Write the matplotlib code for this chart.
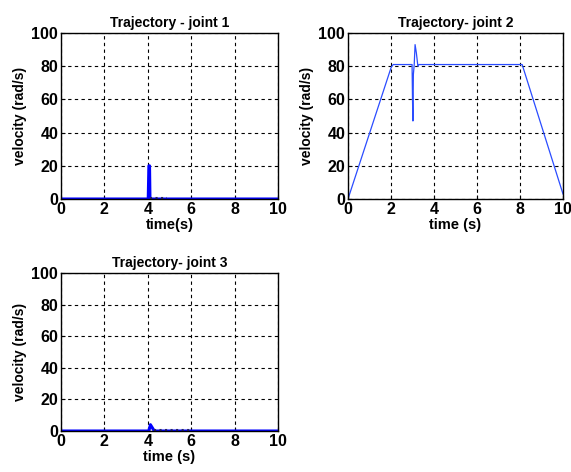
import matplotlib
matplotlib.use("Agg")
import matplotlib.pyplot as plt

# Joint 1 velocity
t1 = [0, 4.02, 4.05, 4.08, 4.1, 10]
v1 = [0, 0, 20, 20, 0, 0]
t1r = [4.1, 4.9]
v1r = [0.6, 0.6]

# Joint 2 velocity
t2 = [0, 0.05, 2.0, 2.1, 2.98, 3.0, 3.02, 3.04, 3.08, 3.12, 3.18, 3.25, 3.3, 8.1, 10]
v2 = [0, 2, 79, 81, 81, 60, 47, 75, 81, 93, 88, 80, 81, 81, 3]

# Joint 3 velocity
t3 = [0, 4.05, 4.12, 4.3, 10]
v3 = [0, 0, 4, 0, 0]
t3r = [4.3, 6.0]
v3r = [0.6, 0.6]

xticks = [0, 2, 4, 6, 8, 10]
yticks = [0, 20, 40, 60, 80, 100]

plt.rcParams['font.family'] = ['Liberation Sans', 'DejaVu Sans']
plt.rcParams['font.weight'] = 'bold'

fig = plt.figure(figsize=(5.71, 4.72), dpi=100)
W, H = 571, 472

def make_ax(l, t, r, b):
    return fig.add_axes([l / W, 1 - b / H, (r - l) / W, (b - t) / H])

ax1 = make_ax(61, 33, 278, 199)
ax2 = make_ax(348, 33, 563, 199)
ax3 = make_ax(61, 273, 278, 431)

blue = '#0000ff'
ax1.plot(t1, v1, color=blue, lw=2.2)
ax1.plot(t1r, v1r, color='#222266', lw=1.5, ls=':')
ax2.plot(t2, v2, color='#2a4cff', lw=0.9)
ax3.plot(t3, v3, color=blue, lw=2.2)
ax3.plot(t3r, v3r, color='#222266', lw=1.5, ls=':')

titles = ['Trajectory - joint 1', 'Trajectory- joint 2', 'Trajectory- joint 3']
xlabels = ['time(s)', 'time (s)', 'time (s)']
for ax, ti, xl in zip([ax1, ax2, ax3], titles, xlabels):
    ax.set_xlim(0, 10)
    ax.set_ylim(0, 100)
    ax.set_xticks(xticks)
    ax.set_yticks(yticks)
    ax.tick_params(labelsize=11.5, direction='in', length=3, width=0.8, pad=2)
    for lab in ax.get_xticklabels() + ax.get_yticklabels():
        lab.set_fontweight('bold')
    ax.grid(True, color='black', ls=(0, (3, 3)), lw=0.8)
    ax.set_title(ti, fontsize=10, fontweight='bold', pad=4)
    ax.set_xlabel(xl, fontsize=10.5, fontweight='bold', labelpad=1)
    ax.set_ylabel('velocity (rad/s)', fontsize=10, fontweight='bold', labelpad=3)
    for s in ax.spines.values():
        s.set_linewidth(1.0)

fig.savefig('out.png', dpi=100)
